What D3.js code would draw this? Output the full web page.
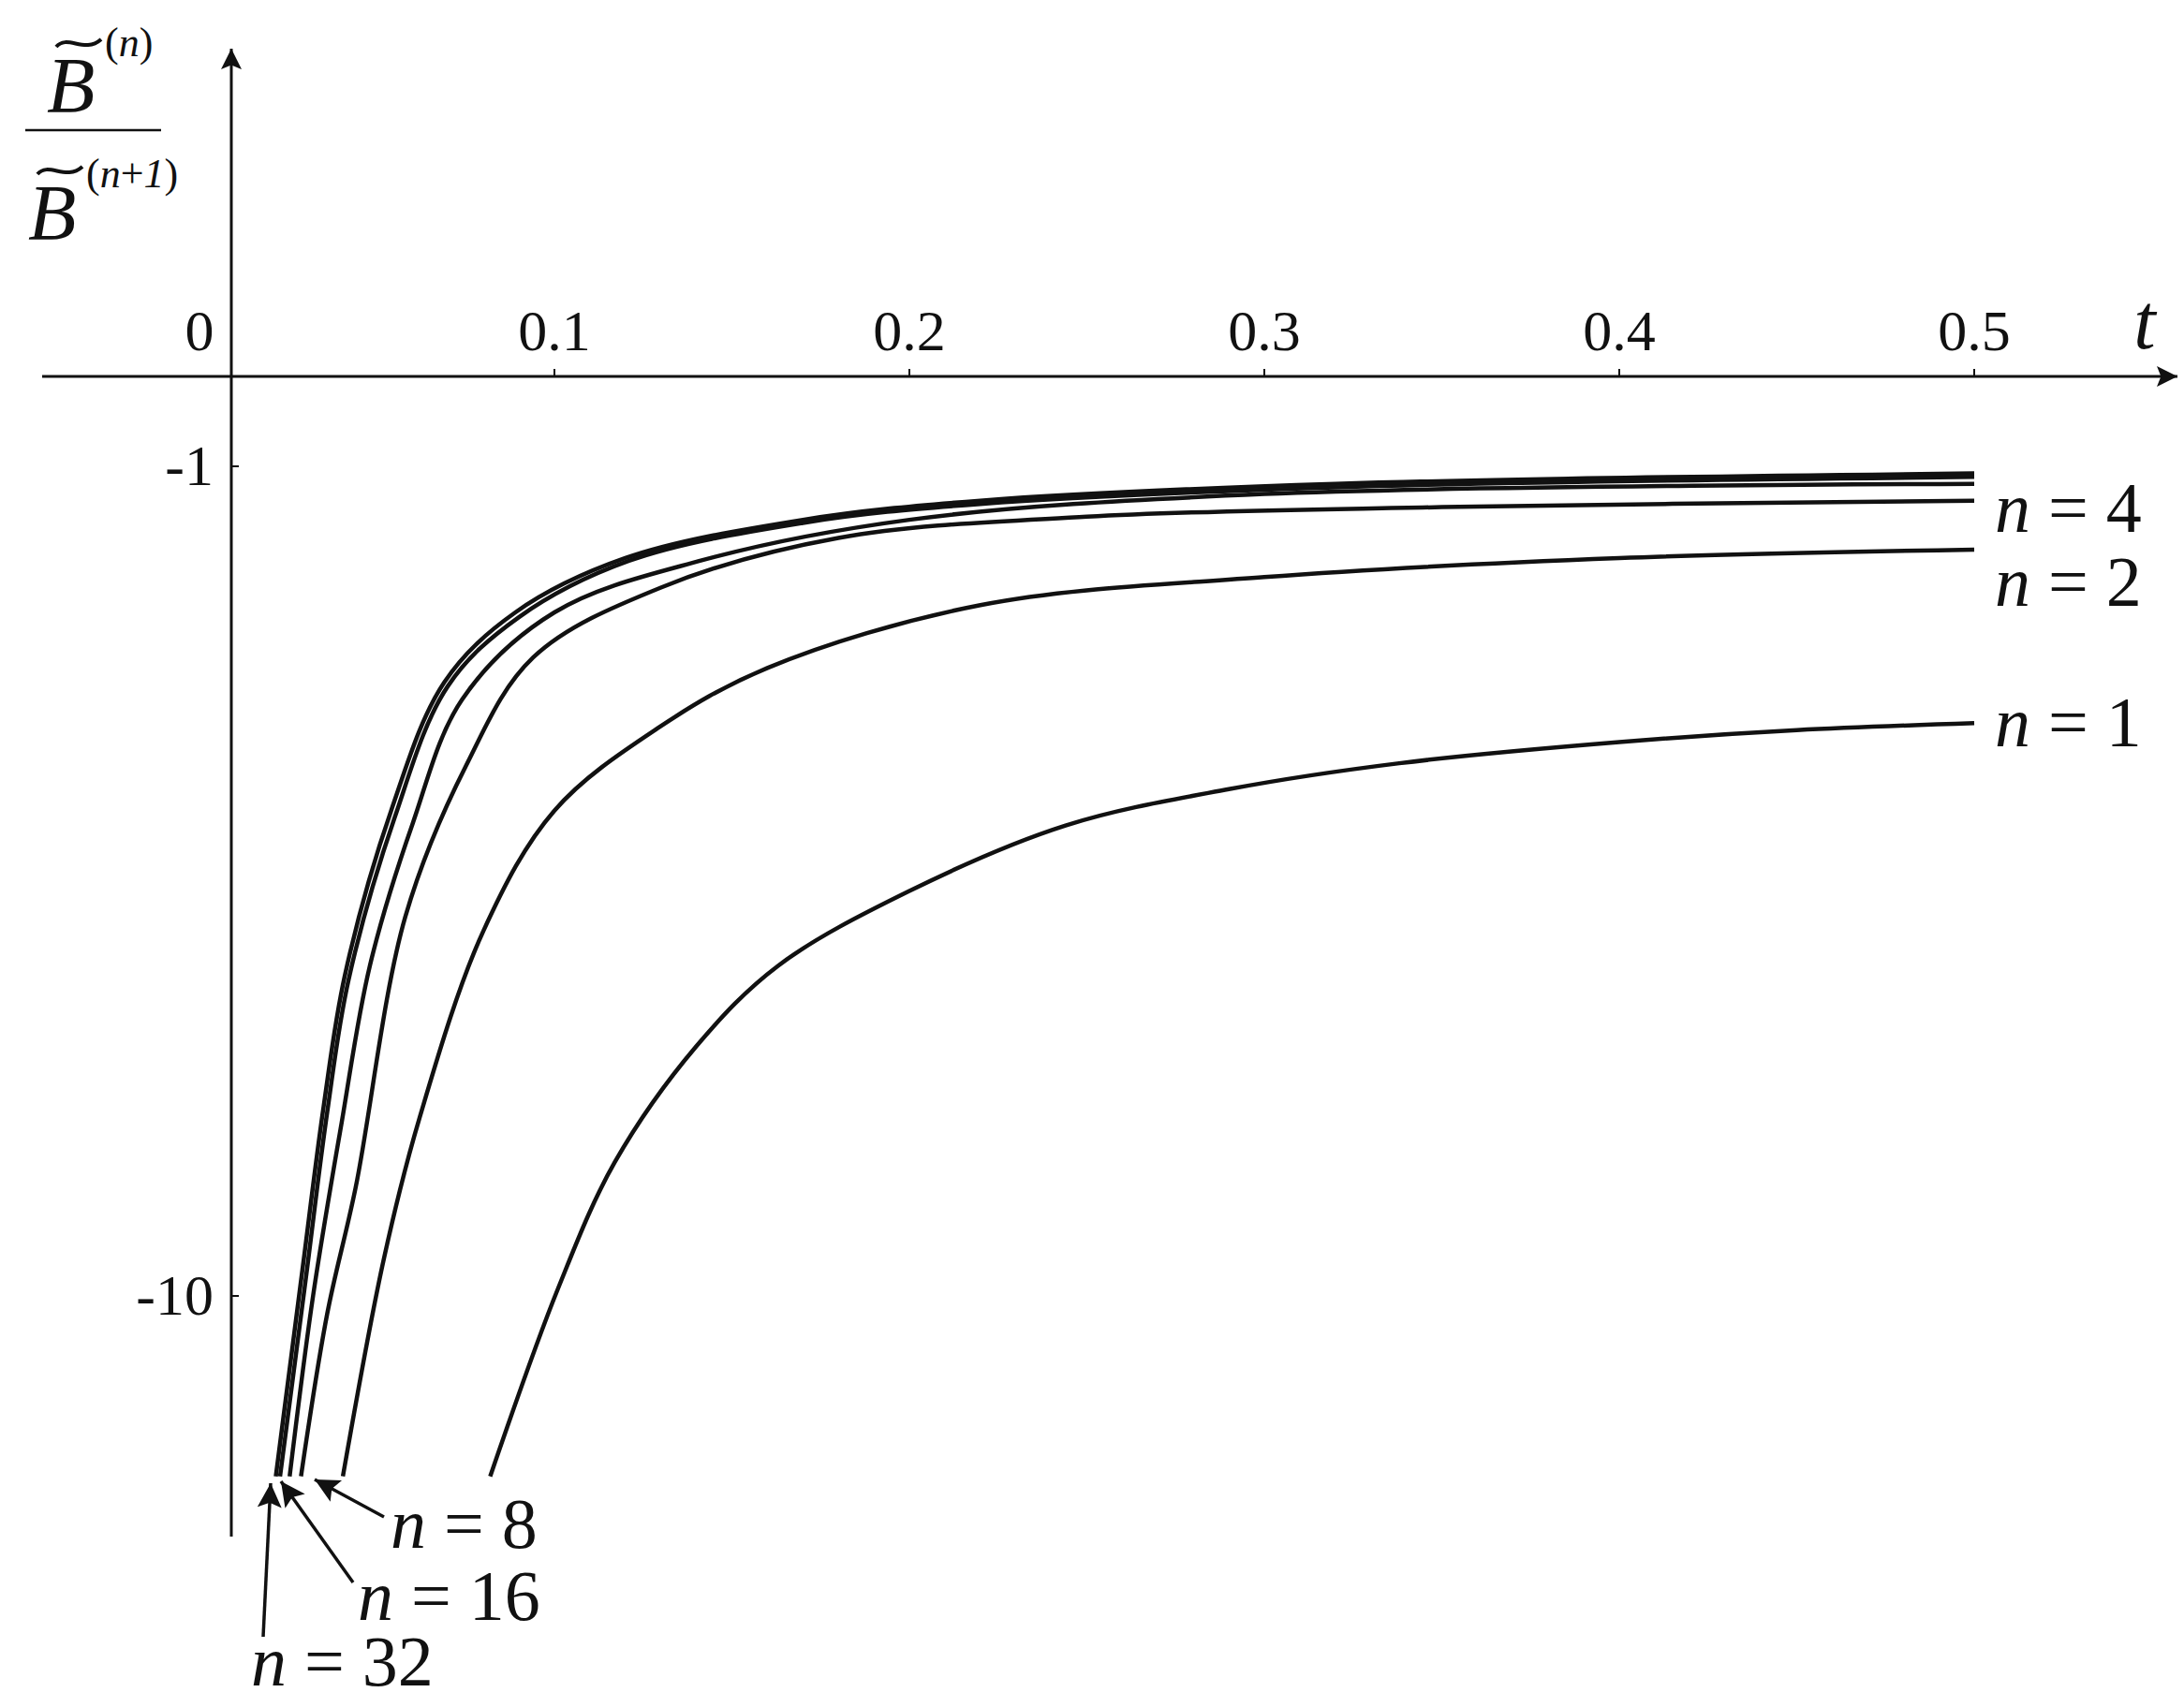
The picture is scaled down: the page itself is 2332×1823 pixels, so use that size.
<!DOCTYPE html><html><head><meta charset="utf-8"><script src="https://cdn.jsdelivr.net/npm/d3@7"></script>
<style>body{margin:0;background:#fff}svg text,svg tspan{font-family:"Liberation Serif","Times New Roman",serif;fill:#111}</style></head><body>
<script>
const xTicks=[0.1,0.2,0.3,0.4,0.5];
const yTicks=[-1,-10];
const t1=[0.0819,0.101,0.117,0.140,0.163,0.20,0.244,0.29,0.338,0.40,0.45,0.50];
const v1=[-16.5,-9.8,-6.9,-5.0,-4.0,-3.25,-2.71,-2.45,-2.28,-2.15,-2.08,-2.04];
const t2=[0.0404,0.052,0.062,0.08,0.10,0.129,0.16,0.22,0.30,0.40,0.50];
const v2=[-16.5,-9.0,-6.1,-3.63,-2.6,-2.07,-1.75,-1.47,-1.36,-1.29,-1.26];
const t4=[0.0286,0.036,0.044,0.058,0.075,0.094,0.13,0.18,0.25,0.35,0.50];
const v4=[-16.5,-10.5,-7.4,-3.49,-2.3,-1.70,-1.40,-1.22,-1.15,-1.12,-1.10];
const t8=[0.0254,0.032,0.040,0.048,0.060,0.074,0.10,0.141,0.20,0.30,0.50];
const v8=[-16.5,-10.0,-6.2,-4.0,-2.7,-1.91,-1.50,-1.30,-1.16,-1.08,-1.05];
const t16=[0.0227,0.030,0.036,0.042,0.055,0.07,0.09,0.121,0.17,0.22,0.32,0.50];
const v16=[-16.5,-9.5,-6.0,-4.16,-2.65,-1.84,-1.52,-1.30,-1.17,-1.11,-1.06,-1.03];
const t32=[0.0215,0.029,0.035,0.041,0.054,0.069,0.089,0.12,0.17,0.22,0.32,0.50];
const v32=[-16.5,-9.3,-5.9,-4.1,-2.6,-1.82,-1.50,-1.29,-1.16,-1.10,-1.05,-1.02];
const series=[[t1,v1],[t2,v2],[t4,v4],[t8,v8],[t16,v16],[t32,v32]];
const endLabels=[["1",797],["2",647],["4",568]];
const arrowLabels=[["8",417,1653,410,1620,336,1580],["16",382,1730,377,1690,300,1582],["32",268,1800,281,1748,289,1584]];

const W=2332,H=1823;
const svg=d3.select("body").append("svg").attr("width",W).attr("height",H);
const x=d3.scaleLinear().domain([0,0.5]).range([213,2108]);
const y=d3.scaleLog().domain([1,10]).range([498,1384]);
const Y=v=>y(-v);
const axY=402, axX=247;
const defs=svg.append("defs");
const mk=(id,w,h)=>{defs.append("marker").attr("id",id).attr("viewBox","0 0 10 10").attr("refX",10).attr("refY",5)
 .attr("markerWidth",w).attr("markerHeight",h).attr("markerUnits","userSpaceOnUse").attr("orient","auto")
 .append("path").attr("d","M0,0L10,5L0,10L2,5z").attr("fill","#111");};
mk("ax",34,22);mk("sm",36,26);
svg.append("line").attr("x1",45).attr("x2",2325).attr("y1",axY).attr("y2",axY).attr("stroke","#111").attr("stroke-width",3).attr("marker-end","url(#ax)");
svg.append("line").attr("x1",axX).attr("x2",axX).attr("y1",1641).attr("y2",52).attr("stroke","#111").attr("stroke-width",3).attr("marker-end","url(#ax)");
xTicks.forEach(t=>{
 svg.append("line").attr("x1",x(t)).attr("x2",x(t)).attr("y1",axY).attr("y2",axY-8).attr("stroke","#111").attr("stroke-width",2);
 svg.append("text").attr("x",x(t)).attr("y",374).attr("text-anchor","middle").attr("font-size",62).text(String(t));
});
svg.append("text").attr("x",x(0)).attr("y",374).attr("text-anchor","middle").attr("font-size",62).text("0");
yTicks.forEach(v=>{
 svg.append("line").attr("x1",axX).attr("x2",axX+8).attr("y1",Y(v)).attr("y2",Y(v)).attr("stroke","#111").attr("stroke-width",2);
 svg.append("text").attr("x",228).attr("y",Y(v)+20).attr("text-anchor","end").attr("font-size",62).text(String(v));
});
svg.append("text").attr("x",2290).attr("y",372).attr("text-anchor","middle").attr("font-size",84).attr("font-style","italic").text("t");
const g=svg.append("g");
g.append("line").attr("x1",27).attr("x2",172).attr("y1",139).attr("y2",139).attr("stroke","#111").attr("stroke-width",2.5);
g.append("text").attr("x",50).attr("y",120).attr("font-size",84).attr("font-style","italic").text("B");
g.append("text").attr("x",112).attr("y",60).attr("font-size",44).html('(<tspan font-style="italic">n</tspan>)');
g.append("text").attr("x",30).attr("y",256).attr("font-size",84).attr("font-style","italic").text("B");
g.append("text").attr("x",92).attr("y",200).attr("font-size",44).html('(<tspan font-style="italic">n</tspan>+<tspan font-style="italic">1</tspan>)');
[[60,50],[40,186]].forEach(([a,b])=>g.append("path").attr("d",`M${a},${b}C${a+12},${b-14} ${a+30},${b+8} ${a+48},${b-8}`).attr("fill","none").attr("stroke","#111").attr("stroke-width",4));
const line=d3.line().x(d=>x(d[0])).y(d=>Y(d[1])).curve(d3.curveCatmullRom.alpha(0.5));
series.forEach(([ts,vs])=>svg.append("path").attr("d",line(ts.map((t,i)=>[t,vs[i]]))).attr("fill","none").attr("stroke","#111").attr("stroke-width",4.5));
endLabels.forEach(([n,yy])=>{
 svg.append("text").attr("x",2130).attr("y",yy).attr("font-size",76).html(`<tspan font-style="italic">n</tspan> = ${n}`);
});
arrowLabels.forEach(([n,lx,ly,x1,y1,x2,y2])=>{
 svg.append("line").attr("x1",x1).attr("y1",y1).attr("x2",x2).attr("y2",y2).attr("stroke","#111").attr("stroke-width",3.5).attr("marker-end","url(#sm)");
 svg.append("text").attr("x",lx).attr("y",ly).attr("font-size",76).html(`<tspan font-style="italic">n</tspan> = ${n}`);
});
</script></body></html>
